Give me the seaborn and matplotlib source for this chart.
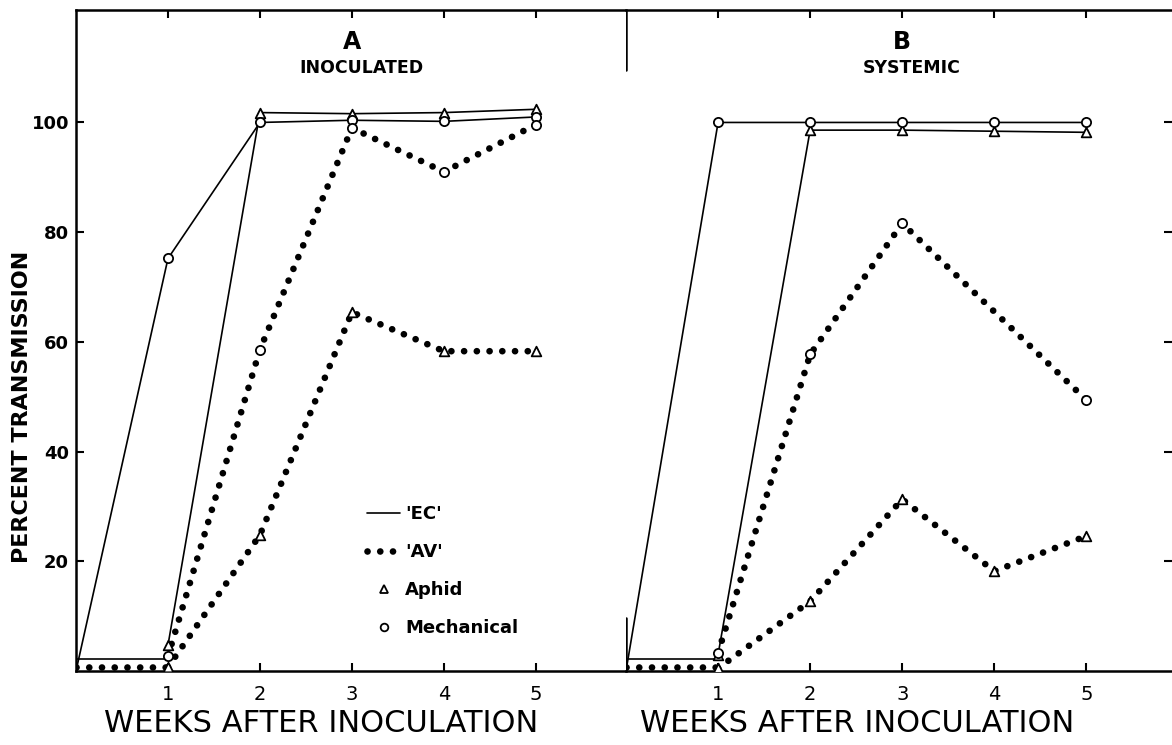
import numpy as np
import pandas as pd
import matplotlib
matplotlib.use("Agg")
import matplotlib.pyplot as plt
from matplotlib.lines import Line2D
import seaborn as sns

sns.set_theme(style="white")
plt.rcParams['font.family'] = ['DejaVu Sans']
plt.rcParams.update({"text.color": "black", "axes.labelcolor": "black",
                     "xtick.color": "black", "ytick.color": "black"})

# ---------------- data ----------------
weeks = [1, 2, 3, 4, 5]
start_week = [0]
baseline_weeks = [0, 1]

# Panel A: inoculated leaves
A_ec_aphid = [4.7, 101.8, 101.6, 101.8, 102.4]
A_ec_mech = [75.2, 100.0, 100.4, 100.2, 101.0]
A_ec_mech_start = [0.0]
A_av_aphid = [0.7, 24.8, 65.4, 58.3, 58.3]
A_av_mech = [2.7, 58.6, 99.0, 91.0, 99.6]

# Panel B: systemic leaves
B_ec_aphid = [3.0, 98.6, 98.6, 98.4, 98.2]
B_ec_mech = [100.0, 100.0, 100.0, 100.0, 100.0]
B_ec_mech_start = [0.0]
B_av_aphid = [0.5, 12.7, 31.3, 18.2, 24.6]
B_av_mech = [3.3, 57.7, 81.6, np.nan, 49.4]

# zero-level bands drawn for weeks 0-1
baseline_ec = [2.2, 2.2]
baseline_av = [0.8, 0.8]

panel_letters = ["A", "B"]
panel_titles = ["INOCULATED", "SYSTEMIC"]
x_ticks = [1, 2, 3, 4, 5]
x_ticklabels = ["1", "2", "3", "4", "5"]
y_ticks = [20, 40, 60, 80, 100]
y_ticklabels = ["20", "40", "60", "80", "100"]
xlabel = "WEEKS AFTER INOCULATION"
ylabel = "PERCENT TRANSMISSION"
legend_labels = ["'EC'", "'AV'", "Aphid", "Mechanical"]

# ---------------- styling ----------------
DOT = (0, (0.01, 1.9))
LW_SOLID = 1.2
LW_DOT = 4.8
YMAX = 120.5

fig = plt.figure(figsize=(11.72, 7.45), dpi=100)
axA = fig.add_axes([76 / 1172, 74 / 745, 550 / 1172, 661 / 745])
axB = fig.add_axes([626 / 1172, 74 / 745, 546 / 1172, 661 / 745])


def line(ax, x, y, dotted=False):
    df = pd.DataFrame({"x": x, "y": y}).dropna()
    if dotted:
        sns.lineplot(data=df, x="x", y="y", ax=ax, color="black", lw=LW_DOT,
                     linestyle=DOT, dash_capstyle="round", estimator=None,
                     sort=False, zorder=2)
    else:
        sns.lineplot(data=df, x="x", y="y", ax=ax, color="black", lw=LW_SOLID,
                     estimator=None, sort=False, zorder=3)


def marks(ax, x, y, marker):
    df = pd.DataFrame({"x": x, "y": y}).dropna()
    sns.scatterplot(data=df, x="x", y="y", ax=ax, marker=marker,
                    s=48 if marker == "^" else 44, color="white",
                    edgecolor="black", linewidth=1.3, zorder=5)


panels = [
    (axA, A_ec_aphid, A_ec_mech, A_ec_mech_start, A_av_aphid, A_av_mech),
    (axB, B_ec_aphid, B_ec_mech, B_ec_mech_start, B_av_aphid, B_av_mech),
]
xlabel_pos = [0.445, 0.423]

for i, (ax, ec_a, ec_m, ec_m0, av_a, av_m) in enumerate(panels):
    # baseline bands
    line(ax, baseline_weeks, baseline_ec)
    line(ax, baseline_weeks, baseline_av, dotted=True)
    # EC (solid)
    line(ax, start_week + weeks, ec_m0 + ec_m)
    line(ax, weeks, ec_a)
    # AV (dotted)
    line(ax, weeks, av_m, dotted=True)
    line(ax, weeks, av_a, dotted=True)
    # markers
    marks(ax, weeks, ec_a, "^")
    marks(ax, weeks, av_a, "^")
    marks(ax, weeks, ec_m, "o")
    marks(ax, weeks, av_m, "o")

    ax.set_ylim(0, YMAX)
    ax.set_xticks(x_ticks)
    ax.set_xticklabels(x_ticklabels, fontsize=14)
    ax.set_xlabel(xlabel, fontsize=22)
    ax.xaxis.set_label_coords(xlabel_pos[i], -0.058)
    ax.set_ylabel("")
    ax.tick_params(axis="x", which="both", direction="in", length=6, width=1.5,
                   top=True, bottom=True, pad=10, colors="black")
    for s in ax.spines.values():
        s.set_linewidth(1.8)
        s.set_color("black")
    ax.spines["right"].set_visible(False)
    ax.text(3.0, 114.6, panel_letters[i], ha="center", va="center",
            fontsize=17, fontweight="bold")
    ax.text(3.1, 109.9, panel_titles[i], ha="center", va="center",
            fontsize=12.5, fontweight="bold")

axA.set_xlim(0, 5.98)
axB.set_xlim(0, 5.93)

# left panel y axis
axA.set_yticks(y_ticks)
axA.set_yticklabels(y_ticklabels, fontsize=13, fontweight="bold")
axA.tick_params(axis="y", direction="in", length=6, width=1.5, left=True,
                right=False, pad=5)
axA.set_ylabel(ylabel, fontsize=16, fontweight="bold")
axA.yaxis.set_label_coords(-0.08, 0.40)

# right panel: ticks only on the right edge
axB.spines["left"].set_visible(False)
axB.set_yticks(y_ticks)
axB.tick_params(axis="y", direction="in", length=6, width=1.5, left=False,
                right=True, labelleft=False, labelright=False)

# divider stubs between panels
axB.axvline(0, ymin=0, ymax=9.6 / YMAX, color="black", lw=1.8, zorder=4)
axB.axvline(0, ymin=109.5 / YMAX, ymax=1, color="black", lw=1.8, zorder=4)

# legend
handles = [
    Line2D([], [], color="black", lw=LW_SOLID),
    Line2D([], [], color="black", lw=LW_DOT, linestyle=DOT, dash_capstyle="round"),
    Line2D([], [], color="black", marker="^", ls="none", markersize=6,
           markerfacecolor="white", markeredgewidth=1.3),
    Line2D([], [], color="black", marker="o", ls="none", markersize=5.5,
           markerfacecolor="white", markeredgewidth=1.3),
]
leg = axA.legend(handles, legend_labels, loc="upper left",
                 bbox_to_anchor=(0.5, 0.275), frameon=False, handlelength=1.8,
                 handletextpad=0.3, labelspacing=1.1,
                 prop={"weight": "bold", "size": 13})

fig.savefig("out.png", dpi=100)
